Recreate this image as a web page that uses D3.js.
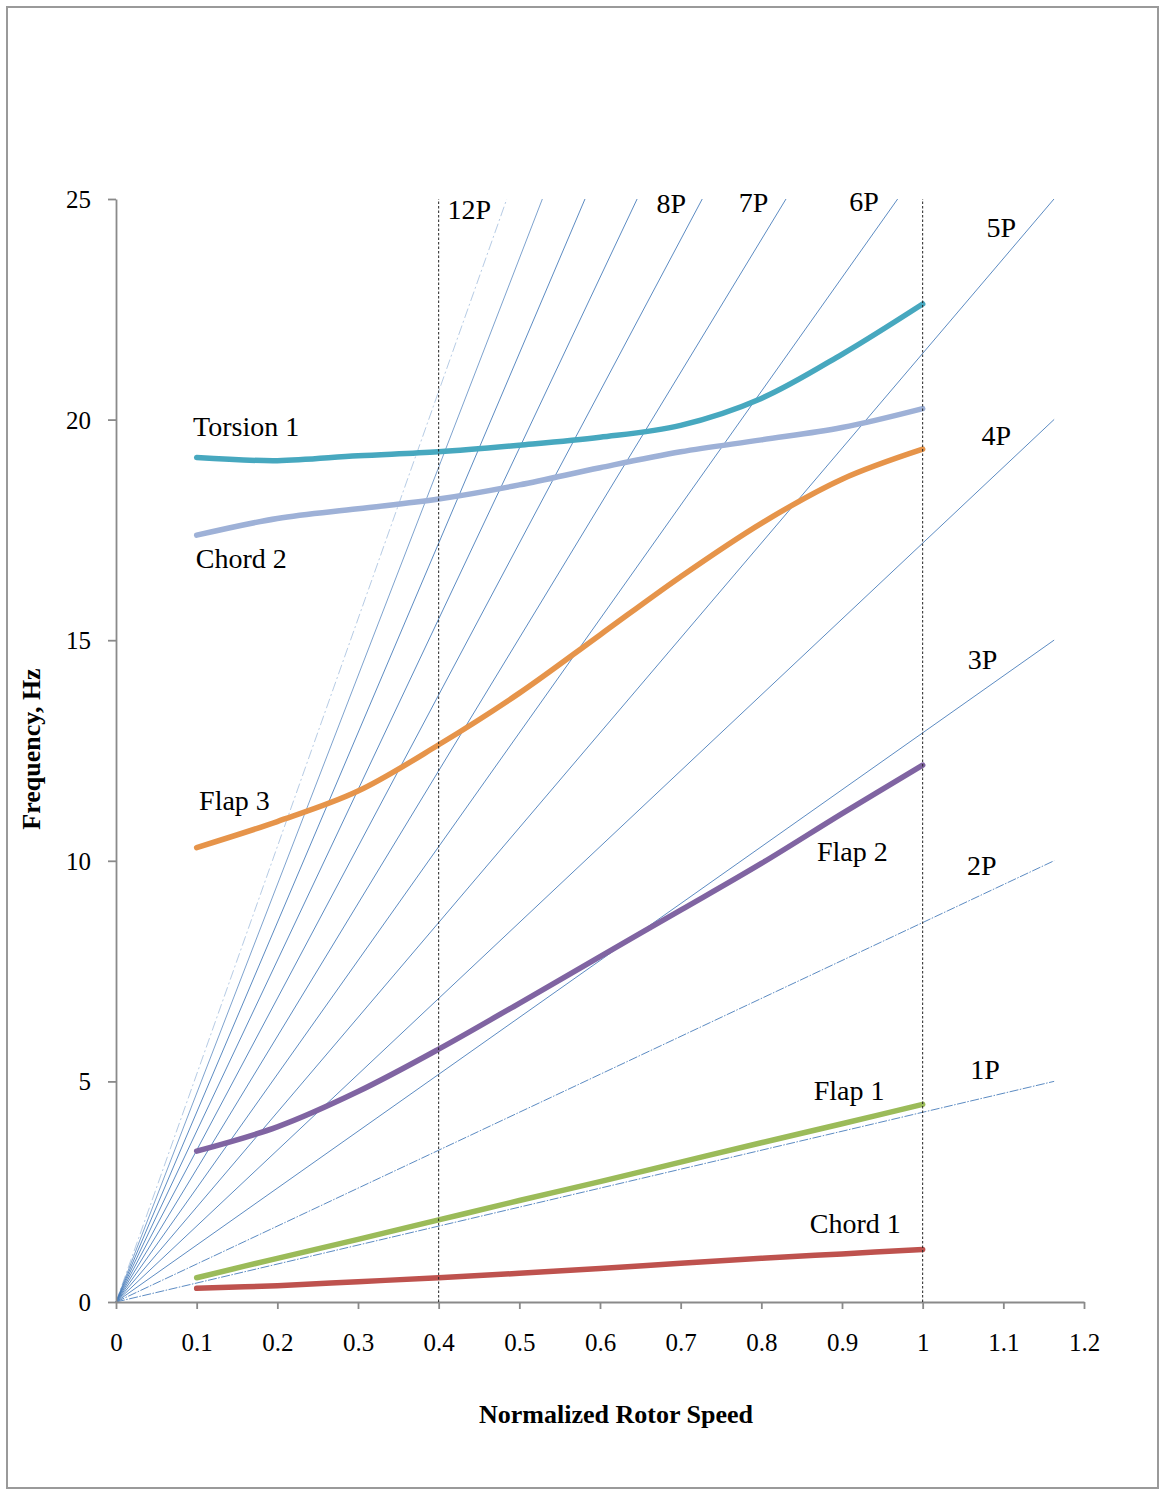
<!DOCTYPE html>
<html>
<head>
<meta charset="utf-8">
<script src="https://cdn.jsdelivr.net/npm/d3@7"></script>
<style>
  html, body { margin: 0; padding: 0; background: #fff; }
  svg { display: block; }
  text { font-family: "Liberation Serif", "Times New Roman", serif; fill: #000; }
</style>
</head>
<body>
<svg id="chart" width="1159" height="1491"></svg>
<script>
// ---------- DATA ----------
const speeds = [0.1, 0.2, 0.3, 0.4, 0.5, 0.6, 0.7, 0.8, 0.9, 1.0];

const torsion1 = [19.14, 19.07, 19.18, 19.27, 19.42, 19.60, 19.87, 20.48, 21.48, 22.62];
const chord2   = [17.38, 17.76, 17.98, 18.20, 18.52, 18.91, 19.27, 19.54, 19.82, 20.25];
const flap3    = [10.30, 10.89, 11.58, 12.63, 13.80, 15.12, 16.44, 17.65, 18.65, 19.33];
const flap2    = [3.42, 3.97, 4.77, 5.73, 6.77, 7.83, 8.88, 9.94, 11.07, 12.17];
const flap1    = [0.55, 0.99, 1.42, 1.86, 2.30, 2.73, 3.17, 3.61, 4.04, 4.48];
const chord1   = [0.31, 0.37, 0.46, 0.55, 0.65, 0.76, 0.88, 0.99, 1.09, 1.19];

const modeNames  = ["Torsion 1", "Chord 2", "Flap 3", "Flap 2", "Flap 1", "Chord 1"];
const modeColors = ["#47A8BF", "#9EB1D7", "#E6944A", "#8064A2", "#9BBB59", "#BE524E"];

// per-rev excitation lines (nP), 1P frequency at rated speed
const harmonics = [1, 2, 3, 4, 5, 6, 7, 8, 9, 10, 11, 12];
const oneP = 4.3;          // Hz at normalized speed 1
const rayMaxSpeed = 1.163; // rays end here (or at top of axis)
const harmonicLabels = ["1P", "2P", "3P", "4P", "5P", "6P", "7P", "8P", "12P"];

// reference speeds (vertical dashed lines)
const refSpeeds = [0.4, 1.0];

// tick values
const xTicks = [0, 0.1, 0.2, 0.3, 0.4, 0.5, 0.6, 0.7, 0.8, 0.9, 1.0, 1.1, 1.2];
const yTicks = [0, 5, 10, 15, 20, 25];

// annotation anchors in data units [speed, Hz]
const modeLabelPos = [[0.0955, 19.63], [0.099, 16.64], [0.103, 11.15], [0.869, 10.0], [0.865, 4.58], [0.860, 1.56]];
const harmLabelPos = [[1.059, 5.05], [1.055, 9.68], [1.056, 14.35], [1.073, 19.42], [1.079, 24.15],
                      [0.909, 24.72], [0.772, 24.70], [0.670, 24.69], [0.411, 24.55]];

// ---------- CHART ----------
const svg = d3.select("#chart");
const x = d3.scaleLinear().domain([0, 1.2]).range([116, 1084]);
const y = d3.scaleLinear().domain([0, 25]).range([1302, 199]);

// outer border
svg.append("rect").attr("x", 7).attr("y", 7).attr("width", 1151).attr("height", 1481)
  .attr("fill", "none").attr("stroke", "#9a9a9a").attr("stroke-width", 2);

// rays
const rays = svg.append("g");
harmonics.forEach(n => {
  const xe = Math.min(rayMaxSpeed, y.domain()[1] / (n * oneP));
  const pts = [[0, 0], [xe, n * oneP * xe]];
  let dash = null, op = 1;
  if (n <= 2) dash = "9 1.5 1.5 1.5";
  if (n === 12) { dash = "10 3 2 3"; op = 0.45; }
  if (n === 11) { op = 0.8; }
  rays.append("path")
    .attr("d", d3.line().x(d => x(d[0])).y(d => y(d[1]))(pts))
    .attr("fill", "none").attr("stroke", "#4A7EBB").attr("stroke-width", 0.9)
    .attr("stroke-dasharray", dash).attr("opacity", op);
});

// axes
const xAxis = svg.append("g").attr("transform", `translate(0,${y(0)})`)
  .call(d3.axisBottom(x).tickValues(xTicks).tickSizeInner(7).tickSizeOuter(0)
    .tickFormat(d => String(+d.toFixed(1))));
const yAxis = svg.append("g").attr("transform", `translate(${x(0)},0)`)
  .call(d3.axisLeft(y).tickValues(yTicks).tickSizeInner(8).tickSizeOuter(0));
[xAxis, yAxis].forEach(g => {
  g.selectAll("path.domain").attr("stroke", "#8a8a8a").attr("stroke-width", 1.8);
  g.selectAll(".tick line").attr("stroke", "#8a8a8a").attr("stroke-width", 1.8);
  g.selectAll(".tick text").attr("font-family", "Liberation Serif, Times New Roman, serif")
    .attr("font-size", 25).attr("fill", "#000");
});
xAxis.selectAll(".tick text").attr("y", 49).attr("dy", 0);
yAxis.selectAll(".tick text").attr("x", -25).attr("dy", "0.34em");

// mode curves
const line = d3.line().x(d => x(d[0])).y(d => y(d[1])).curve(d3.curveCatmullRom.alpha(0.5));
const series = [torsion1, chord2, flap3, flap2, flap1, chord1];
series.forEach((vals, i) => {
  svg.append("path")
    .datum(speeds.map((s, j) => [s, vals[j]]))
    .attr("d", line)
    .attr("fill", "none").attr("stroke", modeColors[i]).attr("stroke-width", 5.5)
    .attr("stroke-linecap", "round").attr("stroke-linejoin", "round");
});

// dashed reference lines
refSpeeds.forEach(s => {
  svg.append("line").attr("x1", x(s)).attr("x2", x(s)).attr("y1", y(0)).attr("y2", y(25))
    .attr("stroke", "#222").attr("stroke-width", 1).attr("stroke-dasharray", "2.5 2");
});

// mode labels
modeNames.forEach((t, i) => {
  svg.append("text").attr("x", x(modeLabelPos[i][0])).attr("y", y(modeLabelPos[i][1]))
    .attr("font-size", 28).text(t);
});
// harmonic labels
harmonicLabels.forEach((t, i) => {
  svg.append("text").attr("x", x(harmLabelPos[i][0])).attr("y", y(harmLabelPos[i][1]))
    .attr("font-size", 28).text(t);
});

// axis titles
svg.append("text").attr("x", 616).attr("y", 1423).attr("text-anchor", "middle")
  .attr("font-size", 26).attr("font-weight", "bold").text("Normalized Rotor Speed");
svg.append("text").attr("transform", "translate(40,749) rotate(-90)").attr("text-anchor", "middle")
  .attr("font-size", 26).attr("font-weight", "bold").text("Frequency, Hz");
</script>
</body>
</html>
